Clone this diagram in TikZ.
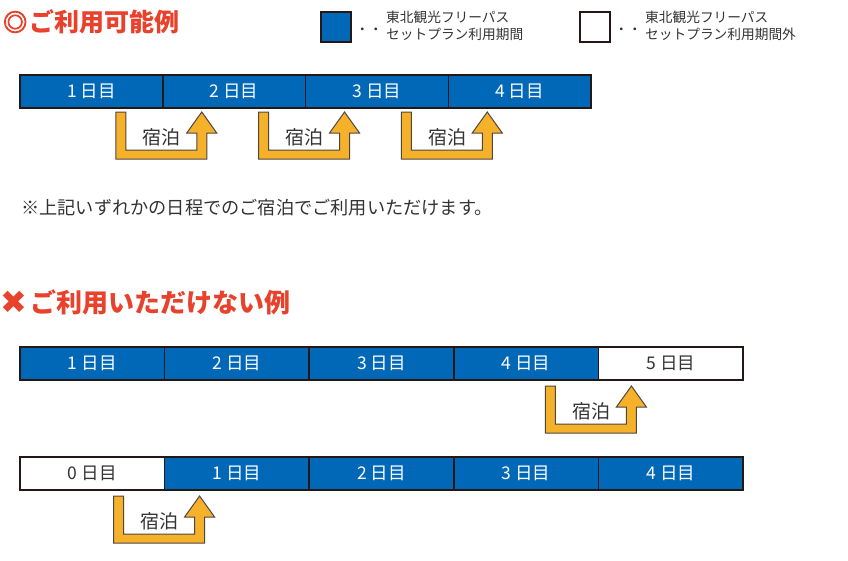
\documentclass[tikz,border=0pt]{standalone}
\usepackage{fontspec}
\setmainfont{Noto Sans CJK JP}
\newfontfamily\djv{DejaVu Sans}
\newfontfamily\ringfont{Noto Sans CJK JP}[FakeBold=4]
\usetikzlibrary{calc}
\definecolor{passblue}{HTML}{0068B7}
\definecolor{stayorange}{HTML}{F6B12B}
\definecolor{headred}{HTML}{E8412C}
\definecolor{edgedark}{HTML}{231815}
\definecolor{textdark}{HTML}{333333}
\newcommand\stayarrow[2]{%
  \draw[stayline] (#1) -- ++(10,0) -- ++(0,38) -- ++(71,0) -- ++(0,-17) -- ++(-10,0)
    -- ++(15,-21) -- ++(15,21) -- ++(-10,0) -- ++(0,26) -- ++(-91,0) -- cycle;
  \node[staylabel] (#2) at ($(#1)+(46,25)$) {宿泊};}
\begin{document}
\begin{tikzpicture}[x=1pt,y=-1pt,
  cellbase/.style={draw=edgedark, line width=1.5pt, inner sep=0pt, outer sep=0pt,
    minimum height=33pt, font=\fontsize{17.5}{20}\selectfont},
  inpass/.style={cellbase, fill=passblue, text=white},
  outpass/.style={cellbase, fill=white, text=textdark},
  wa/.style={minimum width=142.75pt},
  wb/.style={minimum width=144.6pt},
  stayline/.style={draw=edgedark!80, line width=1pt, fill=stayorange, line join=miter},
  staylabel/.style={text=textdark, font=\fontsize{19}{22}\selectfont, inner sep=0pt},
  heading/.style={text=headred, font=\fontsize{26}{28}\selectfont\bfseries, inner sep=0pt, anchor=west},
  legendbox/.style={draw=edgedark, line width=1.2pt, minimum width=30pt, minimum height=30pt, inner sep=0pt},
  legendtext/.style={text=textdark, font=\fontsize{13.7}{17}\selectfont, align=left, inner sep=0pt, anchor=west},
  dots/.style={text=textdark, font=\fontsize{13.5}{17}\selectfont, inner sep=0pt},
  note/.style={text=textdark, font=\fontsize{18.2}{21}\selectfont, inner sep=0pt, anchor=west}
]
\useasboundingbox (0,0) rectangle (848,560);

% headings
\node[heading, font=\ringfont\fontsize{24}{26}\selectfont] (hr) at (3,22) {◎};
\node[heading, font=\fontsize{25}{28}\selectfont\bfseries] (h1) at (29,22) {ご利用可能例};
\node[text=headred, font=\djv\fontsize{32}{34}\selectfont\bfseries, inner sep=0pt] (hx) at (14,302) {✖};
\node[heading] (h2) at (30,302) {ご利用いただけない例};

% legend
\node[legendbox, fill=passblue] (lg1) at (336,27) {};
\node[dots] (ld1) at (369,31) {・・};
\node[legendtext] (lt1) at (386,26) {東北観光フリーパス\\セットプラン利用期間};
\node[legendbox, fill=white] (lg2) at (595,27) {};
\node[dots] (ld2) at (628,31) {・・};
\node[legendtext] (lt2) at (645,26) {東北観光フリーパス\\セットプラン利用期間外};

% row 1
\node[inpass, wa, anchor=north west] (a1) at (20,75) {1 日目};
\node[inpass, wa, anchor=west] (a2) at (a1.east) {2 日目};
\node[inpass, wa, anchor=west] (a3) at (a2.east) {3 日目};
\node[inpass, wa, anchor=west] (a4) at (a3.east) {4 日目};
\coordinate (sa1) at ($(a1.south east)+(-47,4)$);
\coordinate (sa2) at ($(a2.south east)+(-47,4)$);
\coordinate (sa3) at ($(a3.south east)+(-47,4)$);
\stayarrow{sa1}{ta1}
\stayarrow{sa2}{ta2}
\stayarrow{sa3}{ta3}

\node[note] (nt) at (21,208) {※上記いずれかの日程でのご宿泊でご利用いただけます。};

% row 2
\node[inpass, wb, anchor=north west] (b1) at (20,347) {1 日目};
\node[inpass, wb, anchor=west] (b2) at (b1.east) {2 日目};
\node[inpass, wb, anchor=west] (b3) at (b2.east) {3 日目};
\node[inpass, wb, anchor=west] (b4) at (b3.east) {4 日目};
\node[outpass, wb, anchor=west] (b5) at (b4.east) {5 日目};
\coordinate (sb4) at ($(b4.south east)+(-53,6)$);
\stayarrow{sb4}{tb4}

% row 3
\node[outpass, wb, anchor=north west] (c0) at (20,457) {0 日目};
\node[inpass, wb, anchor=west] (c1) at (c0.east) {1 日目};
\node[inpass, wb, anchor=west] (c2) at (c1.east) {2 日目};
\node[inpass, wb, anchor=west] (c3) at (c2.east) {3 日目};
\node[inpass, wb, anchor=west] (c4) at (c3.east) {4 日目};
\coordinate (sc0) at ($(c0.south east)+(-51,6)$);
\stayarrow{sc0}{tc0}
\end{tikzpicture}
\end{document}
